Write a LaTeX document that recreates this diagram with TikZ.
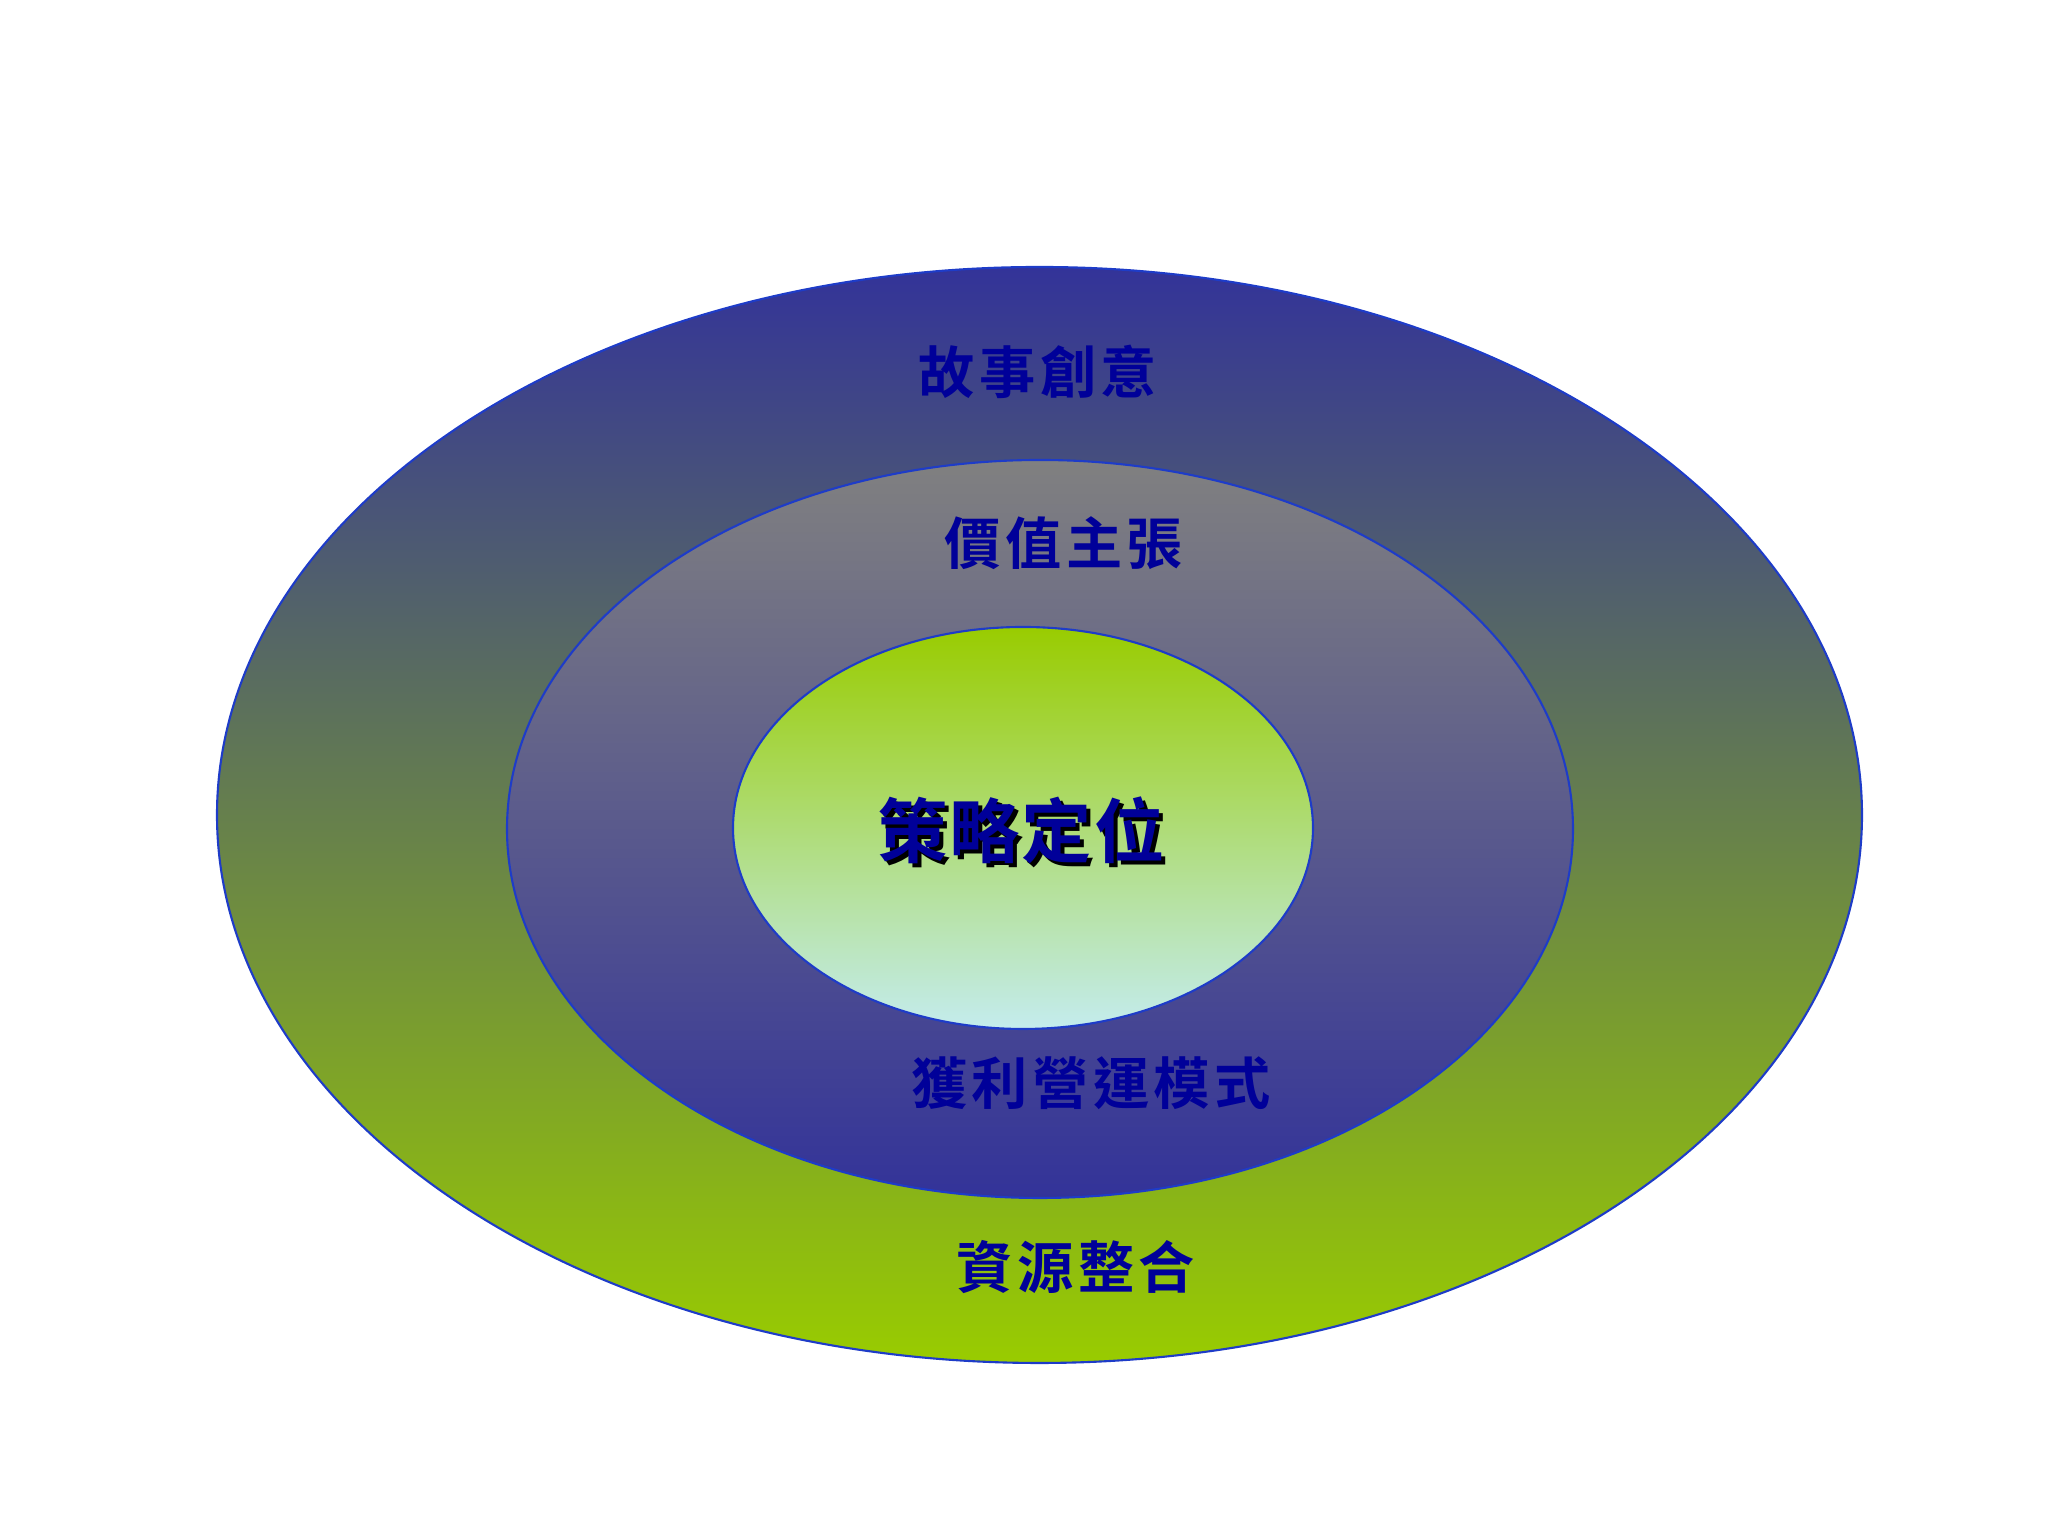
\documentclass[tikz,border=0pt]{standalone}
\usepackage{fontspec}
\usepackage{xcolor}
\newfontfamily\cjk[LetterSpace=8,BoldFont={Noto Sans CJK TC Bold}]{Noto Sans CJK TC}
\newfontfamily\cjkbig[LetterSpace=3,BoldFont={Noto Sans CJK TC Bold}]{Noto Sans CJK TC}
\definecolor{ringblue}{HTML}{333399}
\definecolor{ringgreen}{HTML}{99CC00}
\definecolor{ringgray}{HTML}{808080}
\definecolor{ringcyan}{HTML}{C4ECEE}
\definecolor{rimblue}{HTML}{1E3CC8}
\definecolor{labelblue}{HTML}{000099}

\begin{document}
\begin{tikzpicture}[
    ring/.style={draw=rimblue,line width=0.6pt},
    ringlabel/.style={text=labelblue,font=\cjk\bfseries\fontsize{16pt}{18pt}\selectfont}
  ]
    \useasboundingbox (0,0) rectangle (20.48,15.36);

    % rings, outside in
    \shadedraw[ring,top color=ringblue,bottom color=ringgreen]
      (10.395,7.21) ellipse [x radius=8.225,y radius=5.48];
    \shadedraw[ring,top color=ringgray,bottom color=ringblue]
      (10.40,7.07) ellipse [x radius=5.33,y radius=3.69];
    \shadedraw[ring,top color=ringgreen,bottom color=ringcyan]
      (10.23,7.08) ellipse [x radius=2.90,y radius=2.01];

    % labels
    \node[ringlabel] (story) at (10.38,11.64) {故事創意};
    \node[ringlabel] (value) at (10.64,9.93) {價值主張};
    \node[ringlabel] (profit) at (10.91,4.53) {獲利營運模式};
    \node[ringlabel] (resource) at (10.76,2.69) {資源整合};

    \node[text=black,font=\cjkbig\bfseries\fontsize{20pt}{24pt}\selectfont]
      (coreshadow) at (10.25,7.02) {策略定位};
    \node[text=labelblue,font=\cjkbig\bfseries\fontsize{20pt}{24pt}\selectfont]
      (core) at (10.21,7.06) {策略定位};
\end{tikzpicture}
\end{document}
